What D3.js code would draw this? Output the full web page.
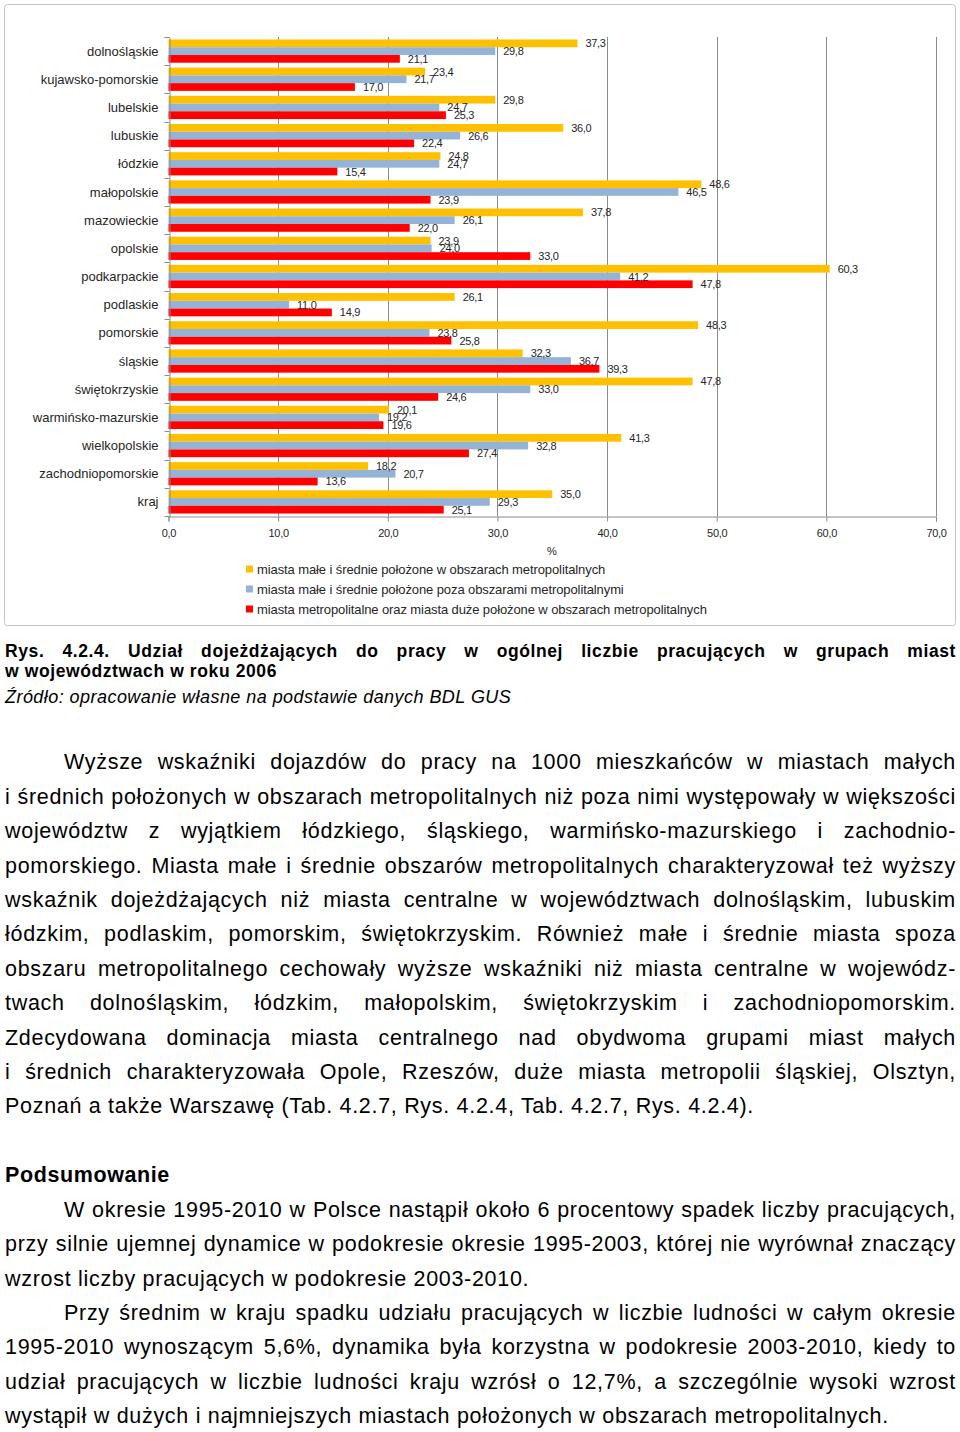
<!DOCTYPE html>
<html><head><meta charset="utf-8">
<script src="https://cdn.jsdelivr.net/npm/d3@7"></script>
<style>
html,body{margin:0;padding:0;background:#fff;}
svg{display:block;}
</style>
</head><body>
<div id="chart"></div>
<script>
const categories = ["dolnośląskie","kujawsko-pomorskie","lubelskie","lubuskie","łódzkie","małopolskie","mazowieckie","opolskie","podkarpackie","podlaskie","pomorskie","śląskie","świętokrzyskie","warmińsko-mazurskie","wielkopolskie","zachodniopomorskie","kraj"];
const seriesNames = ["miasta małe i średnie położone w obszarach metropolitalnych","miasta małe i średnie położone poza obszarami metropolitalnymi","miasta metropolitalne oraz miasta duże położone w obszarach metropolitalnych"];
const smallMetro   = [37.3,23.4,29.8,36.0,24.8,48.6,37.8,23.9,60.3,26.1,48.3,32.3,47.8,20.1,41.3,18.2,35.0];
const smallOutside = [29.8,21.7,24.7,26.6,24.7,46.5,26.1,24.0,41.2,11.0,23.8,36.7,33.0,19.2,32.8,20.7,29.3];
const metroLarge   = [21.1,17.0,25.3,22.4,15.4,23.9,22.0,33.0,47.8,14.9,25.8,39.3,24.6,19.6,27.4,13.6,25.1];
const seriesColors = ["#FFC000","#95B3D7","#FF0000"];
const xTicks = [0,10,20,30,40,50,60,70];
const axisTitle = "%";

const captionLines = [
  {t:"Rys. 4.2.4. Udział dojeżdżających do pracy w ogólnej liczbie pracujących w grupach miast", j:true},
  {t:"w województwach w roku 2006", j:false}
];
const sourceLine = "Źródło: opracowanie własne na podstawie danych BDL GUS";
const para1 = [
  {t:"Wyższe wskaźniki dojazdów do pracy na 1000 mieszkańców w miastach małych", j:true, ind:true},
  {t:"i średnich położonych w obszarach metropolitalnych niż poza nimi występowały w większości", j:true},
  {t:"województw z wyjątkiem łódzkiego, śląskiego, warmińsko-mazurskiego i zachodnio-", j:true},
  {t:"pomorskiego. Miasta małe i średnie obszarów metropolitalnych charakteryzował też wyższy", j:true},
  {t:"wskaźnik dojeżdżających niż miasta centralne w województwach dolnośląskim, lubuskim", j:true},
  {t:"łódzkim, podlaskim, pomorskim, świętokrzyskim. Również małe i średnie miasta spoza", j:true},
  {t:"obszaru metropolitalnego cechowały wyższe wskaźniki niż miasta centralne w wojewódz-", j:true},
  {t:"twach dolnośląskim, łódzkim, małopolskim, świętokrzyskim i zachodniopomorskim.", j:true},
  {t:"Zdecydowana dominacja miasta centralnego nad obydwoma grupami miast małych", j:true},
  {t:"i średnich charakteryzowała Opole, Rzeszów, duże miasta metropolii śląskiej, Olsztyn,", j:true},
  {t:"Poznań a także Warszawę (Tab. 4.2.7, Rys. 4.2.4, Tab. 4.2.7, Rys. 4.2.4).", j:false}
];
const heading = "Podsumowanie";
const para2 = [
  {t:"W okresie 1995-2010 w Polsce nastąpił około 6 procentowy spadek liczby pracujących,", j:true, ind:true},
  {t:"przy silnie ujemnej dynamice w podokresie okresie 1995-2003, której nie wyrównał znaczący", j:true},
  {t:"wzrost liczby pracujących w podokresie 2003-2010.", j:false},
  {t:"Przy średnim w kraju spadku udziału pracujących w liczbie ludności w całym okresie", j:true, ind:true},
  {t:"1995-2010 wynoszącym 5,6%, dynamika była korzystna w podokresie 2003-2010, kiedy to", j:true},
  {t:"udział pracujących w liczbie ludności kraju wzrósł o 12,7%, a szczególnie wysoki wzrost", j:true},
  {t:"wystąpił w dużych i najmniejszych miastach położonych w obszarach metropolitalnych.", j:false}
];

const W = 960, H = 1432;
const svg = d3.select("#chart").append("svg").attr("width", W).attr("height", H);
svg.append("rect").attr("width", W).attr("height", H).attr("fill", "#fff");

const FONT = "'Liberation Sans', Arial, sans-serif";

// chart frame
svg.append("rect").attr("x", 4.5).attr("y", 4.5).attr("width", 951).attr("height", 621)
  .attr("rx", 3).attr("fill", "#fff").attr("stroke", "#c4c4c4").attr("stroke-width", 1);

const x = d3.scaleLinear().domain([0, 70]).range([168.5, 936]);
const y = d3.scaleBand().domain(categories).range([37, 516]).paddingInner(0).paddingOuter(0);
const series = [smallMetro, smallOutside, metroLarge];
const sub = d3.scaleBand().domain([0,1,2]).range([0, y.bandwidth()]).paddingOuter(0.32).paddingInner(0);

const g = svg.append("g");
// gridlines
g.selectAll("line.grid").data(xTicks.filter(d => d > 0)).join("line")
  .attr("x1", d => Math.round(x(d)) + 0.5).attr("x2", d => Math.round(x(d)) + 0.5)
  .attr("y1", 37).attr("y2", 516).attr("stroke", "#8c8c8c").attr("stroke-width", 1);

// bars
series.forEach((vals, si) => {
  g.selectAll("rect.s" + si).data(vals).join("rect")
    .attr("x", x(0)).attr("y", (d, i) => y(categories[i]) + sub(si))
    .attr("width", d => x(d) - x(0)).attr("height", sub.bandwidth())
    .attr("fill", seriesColors[si]);
});
// value labels
const fmt = v => v.toFixed(1).replace(".", ",");
series.forEach((vals, si) => {
  g.selectAll("text.l" + si).data(vals).join("text")
    .attr("x", d => x(d) + 8).attr("y", (d, i) => y(categories[i]) + sub(si) + sub.bandwidth() / 2 + 4)
    .attr("font-family", FONT).attr("font-size", 11).attr("letter-spacing", -0.3)
    .attr("fill", "#262626").text(d => fmt(d));
});

// y axis
const yAxis = d3.axisLeft(y).tickSize(0).tickPadding(11);
const yg = g.append("g").attr("transform", `translate(${Math.round(x(0)) + 0.5},0)`).call(yAxis);
yg.select(".domain").attr("stroke", "#8c8c8c");
yg.selectAll(".tick text").attr("font-family", FONT).attr("font-size", 13).attr("fill", "#262626").attr("dy", "0.35em");
// category boundary ticks
g.selectAll("line.ytick").data(d3.range(categories.length + 1)).join("line")
  .attr("x1", Math.round(x(0)) + 0.5 - 5).attr("x2", Math.round(x(0)) + 0.5)
  .attr("y1", i => Math.round(37 + i * y.step()) + 0.5).attr("y2", i => Math.round(37 + i * y.step()) + 0.5)
  .attr("stroke", "#8c8c8c");

// x axis
const xAxis = d3.axisBottom(x).tickValues(xTicks).tickSize(5).tickPadding(8).tickFormat(d => fmt(d));
const xg = g.append("g").attr("transform", "translate(0,516.5)").call(xAxis);
xg.select(".domain").attr("stroke", "#8c8c8c");
xg.selectAll(".tick line").attr("stroke", "#8c8c8c");
xg.selectAll(".tick text").attr("font-family", FONT).attr("font-size", 11).attr("letter-spacing", -0.3).attr("fill", "#262626");

g.append("text").attr("x", 552).attr("y", 555).attr("text-anchor", "middle")
  .attr("font-family", FONT).attr("font-size", 11).attr("fill", "#262626").text(axisTitle);

// legend
const lg = g.append("g");
seriesNames.forEach((n, i) => {
  const cy = 569 + i * 20;
  lg.append("rect").attr("x", 246).attr("y", cy - 3.5).attr("width", 7).attr("height", 7).attr("fill", seriesColors[i]);
  lg.append("text").attr("x", 257).attr("y", cy + 4.5).attr("font-family", FONT).attr("font-size", 13)
    .attr("letter-spacing", -0.1).attr("fill", "#262626").text(n);
});

// text below
const LEFT = 5, RIGHT = 956, INDENT = 64;
function line(txt, xs, base, size, opts) {
  const t = svg.append("text").attr("x", xs).attr("y", base)
    .attr("font-family", FONT).attr("font-size", size).attr("fill", "#000")
    .attr("letter-spacing", opts.ls || 0)
    .attr("font-weight", opts.bold ? "bold" : null).attr("font-style", opts.italic ? "italic" : null)
    .text(txt);
  if (opts.j) {
    const nat = t.node().getComputedTextLength();
    const spaces = (txt.match(/ /g) || []).length;
    if (spaces > 0) t.attr("word-spacing", ((RIGHT - xs) - nat) / spaces);
  }
  return t;
}
captionLines.forEach((l, i) => line(l.t, LEFT, 656.7 + i * 20.6, 17.5, {bold: true, j: l.j, ls: 0.6}));
line(sourceLine, LEFT, 703.3, 18, {italic: true, ls: 0.45});

const LH = 34.4, FS = 21.5, LS = 0.7;
para1.forEach((l, i) => line(l.t, l.ind ? INDENT : LEFT, 769.3 + i * LH, FS, {j: l.j, ls: LS}));
line(heading, LEFT, 1182.3, FS, {bold: true, ls: 0.6});
para2.forEach((l, i) => line(l.t, l.ind ? INDENT : LEFT, 1216.7 + i * LH, FS, {j: l.j, ls: LS}));
</script>
</body></html>
